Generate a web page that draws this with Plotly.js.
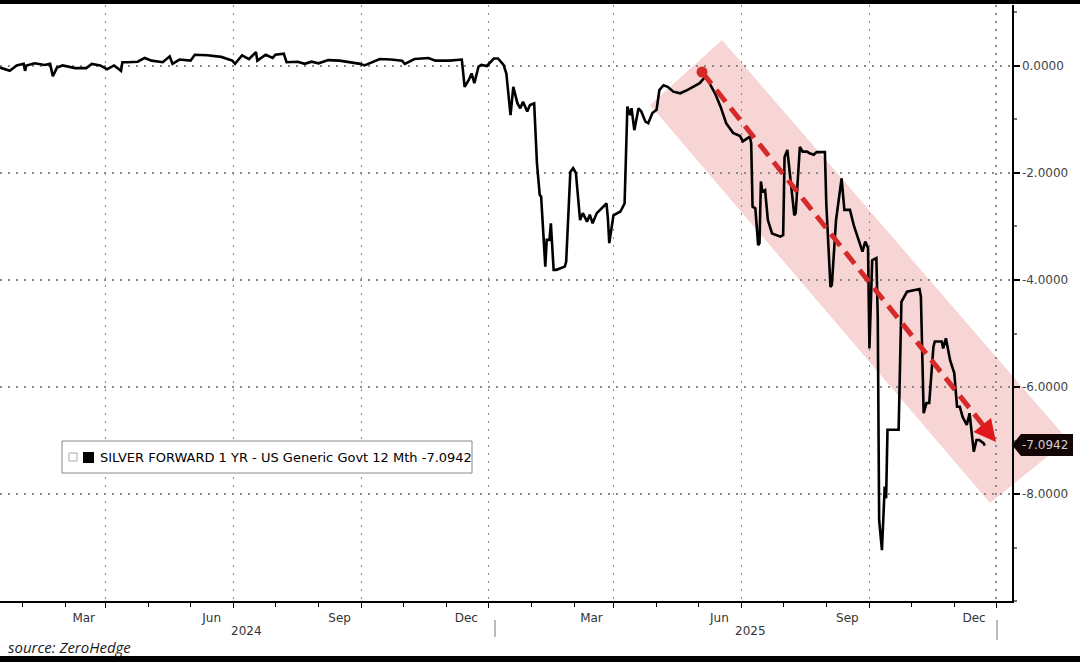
<!DOCTYPE html>
<html>
<head>
<meta charset="utf-8">
<script src="https://cdn.plot.ly/plotly-3.0.1.min.js"></script>
<style>html,body{margin:0;padding:0;background:#fff;}#chart{width:1080px;height:662px;}</style>
</head>
<body>
<div id="chart"></div>
<script>
// ---- data ----
const dates = [
"2023-12-16","2023-12-23","2023-12-28","2024-01-02","2024-01-03","2024-01-04","2024-01-10","2024-01-17","2024-01-21","2024-01-23",
"2024-01-26","2024-01-30","2024-02-08","2024-02-16","2024-02-20","2024-02-26","2024-03-02","2024-03-07","2024-03-12","2024-03-13",
"2024-03-17","2024-03-24","2024-03-29","2024-04-03","2024-04-11","2024-04-16","2024-04-18","2024-04-23","2024-05-01","2024-05-04",
"2024-05-13","2024-05-23","2024-05-31","2024-06-02","2024-06-07","2024-06-12","2024-06-17","2024-06-18","2024-06-24","2024-06-29",
"2024-07-01","2024-07-07","2024-07-09","2024-07-17","2024-07-22","2024-07-27","2024-08-01","2024-08-08","2024-08-16","2024-08-23",
"2024-08-31","2024-09-03","2024-09-10","2024-09-14","2024-09-22","2024-09-30","2024-10-02","2024-10-09","2024-10-19","2024-10-24",
"2024-11-03","2024-11-12","2024-11-14","2024-11-17","2024-11-19","2024-11-21","2024-11-24","2024-11-26","2024-11-30","2024-12-05",
"2024-12-08","2024-12-12","2024-12-14","2024-12-17","2024-12-19","2024-12-22","2024-12-24","2024-12-26","2024-12-29","2024-12-31",
"2025-01-03","2025-01-05","2025-01-07","2025-01-08","2025-01-11","2025-01-12","2025-01-14","2025-01-15","2025-01-17","2025-01-19",
"2025-01-25","2025-01-26","2025-01-29","2025-01-31","2025-02-02","2025-02-05","2025-02-07","2025-02-10","2025-02-12","2025-02-14",
"2025-02-17","2025-02-22","2025-02-24","2025-02-25","2025-02-26","2025-03-01","2025-03-06","2025-03-09","2025-03-11","2025-03-13",
"2025-03-14","2025-03-16","2025-03-19","2025-03-21","2025-03-24","2025-03-26","2025-03-29","2025-04-01","2025-04-03","2025-04-06",
"2025-04-09","2025-04-13","2025-04-18","2025-04-23","2025-04-27","2025-05-02","2025-05-06","2025-05-09","2025-05-13","2025-05-17",
"2025-05-21","2025-05-26","2025-05-31","2025-06-02","2025-06-07","2025-06-08","2025-06-09","2025-06-11","2025-06-13","2025-06-14",
"2025-06-15","2025-06-16","2025-06-18","2025-06-20","2025-06-23","2025-06-29","2025-07-01","2025-07-02","2025-07-04","2025-07-07",
"2025-07-09","2025-07-10","2025-07-13","2025-07-15","2025-07-18","2025-07-20","2025-07-23","2025-07-25","2025-07-31","2025-08-01",
"2025-08-04","2025-08-05","2025-08-08","2025-08-12","2025-08-14","2025-08-18","2025-08-21","2025-08-25","2025-08-27","2025-08-29",
"2025-08-31","2025-09-01","2025-09-02","2025-09-03","2025-09-06","2025-09-07","2025-09-08","2025-09-10","2025-09-12","2025-09-13",
"2025-09-14","2025-09-22","2025-09-24","2025-09-28","2025-10-07","2025-10-08","2025-10-10","2025-10-12","2025-10-14","2025-10-17",
"2025-10-18","2025-10-23","2025-10-24","2025-10-26","2025-10-29","2025-11-01","2025-11-03","2025-11-05","2025-11-07","2025-11-10",
"2025-11-12","2025-11-15","2025-11-17","2025-11-19","2025-11-22","2025-11-23"
];
const values = [
-0.03,-0.09,0.01,0.04,-0.09,0.01,0.05,0.02,0.04,-0.19,
-0.03,0.01,-0.04,-0.04,0.04,0.01,-0.06,0.01,-0.09,0.07,
0.07,0.08,0.15,0.10,0.07,0.18,0.04,0.12,0.10,0.21,
0.20,0.17,0.10,0.04,0.20,0.13,0.26,0.10,0.21,0.15,
0.21,0.23,0.07,0.08,0.04,0.08,0.05,0.11,0.10,0.07,
0.04,0.01,0.08,0.13,0.12,0.10,0.04,0.13,0.15,0.10,
0.10,0.12,-0.39,-0.26,-0.14,-0.32,-0.01,0.02,0.00,0.14,
0.14,0.02,-0.14,-0.92,-0.39,-0.70,-0.79,-0.67,-0.85,-0.73,
-0.70,-1.82,-2.41,-2.44,-3.75,-3.25,-3.25,-2.94,-3.81,-3.81,
-3.75,-3.66,-1.98,-1.91,-2.00,-2.88,-2.75,-2.91,-2.78,-2.94,
-2.75,-2.63,-2.57,-2.85,-3.31,-2.79,-2.72,-2.57,-0.76,-0.92,
-0.79,-1.20,-0.79,-0.85,-1.04,-1.07,-0.88,-0.82,-0.45,-0.36,
-0.39,-0.48,-0.51,-0.45,-0.39,-0.32,-0.20,-0.32,-0.51,-0.76,
-1.07,-1.25,-1.31,-1.41,-1.32,-1.44,-2.63,-2.66,-3.35,-3.31,
-2.16,-2.35,-2.32,-2.88,-3.13,-3.19,-3.16,-1.70,-1.57,-2.25,
-2.79,-2.75,-1.51,-1.60,-1.60,-1.63,-1.66,-1.61,-1.61,-2.57,
-4.13,-4.09,-2.88,-2.10,-2.69,-2.69,-3.00,-3.31,-3.47,-3.28,
-3.40,-5.28,-4.25,-3.63,-3.59,-4.69,-8.49,-9.05,-7.86,-8.08,
-6.80,-6.80,-4.41,-4.22,-4.17,-4.31,-6.49,-6.30,-6.30,-5.25,
-5.15,-5.15,-5.28,-5.09,-5.50,-5.74,-6.37,-6.37,-6.56,-6.71,
-6.49,-7.21,-6.99,-6.99,-7.05,-7.0942
];
const xTickVals = ["2024-03-01","2024-06-01","2024-09-01","2024-12-01","2025-03-01","2025-06-01","2025-09-01","2025-12-01"];
const xTickText = ["Mar","Jun","Sep","Dec","Mar","Jun","Sep","Dec"];
const yTickVals = [0,-2,-4,-6,-8];
const yTickText = ["0.0000","-2.0000","-4.0000","-6.0000","-8.0000"];
const years = ["2024","2025"];
const seriesName = "SILVER FORWARD 1 YR - US Generic Govt 12 Mth";
const lastValueText = "-7.0942";
const sourceText = "source: ZeroHedge";

// ---- pixel -> paper helpers for decorations ----
const PW = 1012, PT = 5, PB = 601, PH = PB - PT;
const px = x => x / PW;
const py = y => (PB - y) / PH;

const FONT = "DejaVu Sans, Verdana, sans-serif";

const trace = {
  x: dates, y: values, type: "scatter", mode: "lines",
  line: {color: "#000", width: 2.6, shape: "linear"},
  hoverinfo: "skip"
};

// arrow geometry (pixels)
const aStart = [702, 72], aEnd = [983, 425];
const tip = [996, 442], c1 = [991, 418], c2 = [973.5, 432];

const shapes = [
  {type: "path", xref: "paper", yref: "paper", layer: "below",
   path: `M${px(722)},${py(40)} L${px(1068)},${py(440)} L${px(990)},${py(503)} L${px(650)},${py(105)} Z`,
   fillcolor: "#f8d5d5", line: {width: 0}},
  {type: "line", xref: "paper", yref: "paper", layer: "above",
   x0: px(aStart[0]), y0: py(aStart[1]), x1: px(aEnd[0]), y1: py(aEnd[1]),
   line: {color: "#d42a2a", width: 5, dash: "15px,8px"}},
  {type: "path", xref: "paper", yref: "paper", layer: "above",
   path: `M${px(tip[0])},${py(tip[1])} L${px(c1[0])},${py(c1[1])} L${px(c2[0])},${py(c2[1])} Z`,
   fillcolor: "#e0181c", line: {width: 0}},
  {type: "circle", xref: "paper", yref: "paper", layer: "above",
   x0: px(aStart[0]-5.5), x1: px(aStart[0]+5.5), y0: py(aStart[1]+5.5), y1: py(aStart[1]-5.5),
   fillcolor: "#d42a2a", line: {width: 0}},
  {type: "rect", xref: "paper", yref: "paper", layer: "above",
   x0: px(62), x1: px(472), y0: py(473), y1: py(441),
   fillcolor: "#fff", line: {color: "#888", width: 1}},
  {type: "rect", xref: "paper", yref: "paper", layer: "above",
   x0: px(69), x1: px(77), y0: py(461), y1: py(453),
   fillcolor: "#fff", line: {color: "#aaa", width: 1}},
  {type: "rect", xref: "paper", yref: "paper", layer: "above",
   x0: px(83), x1: px(94), y0: py(463), y1: py(452),
   fillcolor: "#000", line: {width: 0}},
  {type: "path", xref: "paper", yref: "paper", layer: "above",
   path: `M${px(1012)},${py(445)} L${px(1021)},${py(434)} L${px(1073)},${py(434)} L${px(1073)},${py(456)} L${px(1021)},${py(456)} Z`,
   fillcolor: "#140606", line: {width: 0}},
  {type: "line", xref: "paper", yref: "paper", x0: px(495), x1: px(495), y0: py(620), y1: py(637),
   line: {color: "#777", width: 1}},
  {type: "line", xref: "paper", yref: "paper", x0: px(997), x1: px(997), y0: py(620), y1: py(640),
   line: {color: "#777", width: 1}},
  {type: "rect", xref: "paper", yref: "paper", layer: "above",
   x0: px(-5), x1: px(1090), y0: py(4), y1: py(-5), fillcolor: "#000", line: {width: 0}},
  {type: "rect", xref: "paper", yref: "paper", layer: "above",
   x0: px(-5), x1: px(1090), y0: py(670), y1: py(656), fillcolor: "#000", line: {width: 0}}
];

const annotations = [
  {xref: "paper", yref: "paper", x: px(98), y: py(457), xanchor: "left", yanchor: "middle",
   text: seriesName + " " + lastValueText, showarrow: false,
   font: {family: FONT, size: 13, color: "#000"}},
  {xref: "paper", yref: "paper", x: px(1045), y: py(445), xanchor: "center", yanchor: "middle",
   text: lastValueText, showarrow: false, font: {family: FONT, size: 12, color: "#d0d0d0"}},
  {xref: "paper", yref: "paper", x: px(246), y: py(631), xanchor: "center", yanchor: "middle",
   text: years[0], showarrow: false, font: {family: FONT, size: 12, color: "#333"}},
  {xref: "paper", yref: "paper", x: px(750), y: py(631), xanchor: "center", yanchor: "middle",
   text: years[1], showarrow: false, font: {family: FONT, size: 12, color: "#333"}},
  {xref: "paper", yref: "paper", x: px(6), y: py(647), xanchor: "left", yanchor: "middle",
   text: "<i>" + sourceText + "</i>", showarrow: false,
   font: {family: "Open Sans, sans-serif", size: 15, color: "#1a1a1a"}}
];

const layout = {
  width: 1080, height: 662,
  margin: {l: 0, r: 68, t: 5, b: 61, pad: 0},
  paper_bgcolor: "#fff", plot_bgcolor: "rgba(0,0,0,0)",
  showlegend: false,
  xaxis: {
    type: "date", range: ["2023-12-16", "2025-12-12 12:00"],
    tickmode: "array", tickvals: xTickVals, ticktext: xTickText,
    ticklabelshift: -22,
    tickfont: {family: FONT, size: 12, color: "#333"},
    ticks: "outside", ticklen: 5, tickcolor: "#000", tickwidth: 1,
    showgrid: true, gridcolor: "#8a8a8a", griddash: "2px,6px", gridwidth: 1.2,
    showline: true, linecolor: "#000", linewidth: 1.5,
    zeroline: false, fixedrange: true,
    minor: {dtick: "M1", tick0: "2024-01-01", ticks: "outside", ticklen: 4, tickcolor: "#000", showgrid: false}
  },
  yaxis: {
    side: "right", range: [-10, 1.14],
    tickmode: "array", tickvals: yTickVals, ticktext: yTickText,
    tickfont: {family: FONT, size: 12, color: "#444"},
    ticks: "outside", ticklen: 6, tickwidth: 2, tickcolor: "#000",
    showgrid: true, gridcolor: "#8a8a8a", griddash: "2px,6px", gridwidth: 1.2,
    showline: true, linecolor: "#000", linewidth: 1.5,
    zeroline: false, fixedrange: true,
    minor: {dtick: 1, tick0: 0, ticks: "outside", ticklen: 3, tickcolor: "#777", showgrid: false}
  },
  shapes: shapes,
  annotations: annotations
};

Plotly.newPlot("chart", [trace], layout, {staticPlot: true, displayModeBar: false});
</script>
</body>
</html>
